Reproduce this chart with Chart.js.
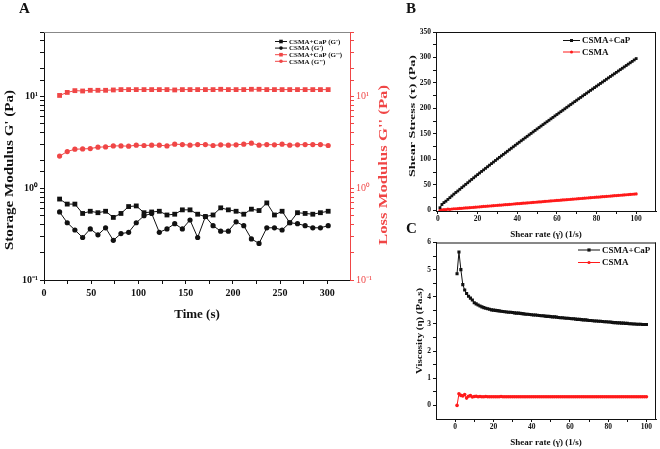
<!DOCTYPE html>
<html>
<head>
<meta charset="utf-8">
<script src="https://cdn.jsdelivr.net/npm/chart.js"></script>
<style>
  body { margin: 0; background: #fff; }
  #page { position: relative; width: 660px; height: 449px; overflow: hidden; }
  canvas { position: absolute; }
  .tag { position: absolute; font: bold 15px 'Liberation Serif', serif; color: #111; }
</style>
</head>
<body>
<div id="page">
  <canvas id="chartA" width="400" height="330" style="left:0;top:0"></canvas>
  <canvas id="chartB" width="260" height="242" style="left:400px;top:0"></canvas>
  <canvas id="chartC" width="260" height="213" style="left:400px;top:236px"></canvas>
  <div class="tag" style="left:19px;top:0px">A</div>
  <div class="tag" style="left:406px;top:0px">B</div>
  <div class="tag" style="left:406px;top:220px">C</div>
</div>
<script>
// Panel A: time sweep (s) vs moduli (Pa)
const timeS = [16.5, 24.6, 32.7, 40.9, 49.0, 57.1, 65.2, 73.4, 81.5, 89.6, 97.7, 105.9,
  114.0, 122.1, 130.2, 138.4, 146.5, 154.6, 162.7, 170.9, 179.0, 187.1, 195.2, 203.4,
  211.5, 219.6, 227.7, 235.9, 244.0, 252.1, 260.2, 268.4, 276.5, 284.6, 292.7, 300.9];
const storageCaP = [0.76, 0.67, 0.67, 0.53, 0.56, 0.54, 0.56, 0.48, 0.53, 0.63, 0.64, 0.54,
  0.55, 0.56, 0.51, 0.52, 0.58, 0.58, 0.52, 0.49, 0.51, 0.61, 0.58, 0.56,
  0.52, 0.59, 0.57, 0.69, 0.51, 0.56, 0.42, 0.54, 0.53, 0.52, 0.54, 0.56];
const storageCSMA = [0.55, 0.42, 0.35, 0.29, 0.36, 0.31, 0.37, 0.27, 0.32, 0.33, 0.42, 0.50,
  0.53, 0.33, 0.36, 0.41, 0.36, 0.45, 0.29, 0.49, 0.39, 0.34, 0.34, 0.43,
  0.39, 0.28, 0.25, 0.37, 0.37, 0.35, 0.42, 0.41, 0.39, 0.37, 0.37, 0.39];
const lossCaP = [10.2, 11.0, 11.5, 11.4, 11.6, 11.6, 11.6, 11.7, 11.8, 11.8, 11.8, 11.8,
  11.8, 11.8, 11.8, 11.7, 11.8, 11.8, 11.8, 11.8, 11.8, 11.9, 11.8, 11.8,
  11.8, 11.9, 11.9, 11.8, 11.8, 11.8, 11.8, 11.8, 11.8, 11.8, 11.8, 11.8];
const lossCSMA = [2.23, 2.50, 2.65, 2.67, 2.69, 2.79, 2.81, 2.88, 2.88, 2.86, 2.93, 2.91,
  2.93, 2.93, 2.88, 3.01, 2.98, 2.93, 2.98, 2.98, 2.91, 2.96, 2.93, 2.96,
  3.01, 3.08, 2.93, 2.98, 2.96, 3.01, 2.93, 2.96, 2.98, 2.98, 2.98, 2.91];

// Panels B and C: shear rate (1/s)
const shearRate = [1, 2, 3, 4, 5, 6, 7, 8, 9, 10, 11, 12, 13, 14, 15, 16, 17, 18, 19, 20,
  21, 22, 23, 24, 25, 26, 27, 28, 29, 30, 31, 32, 33, 34, 35, 36, 37, 38, 39, 40,
  41, 42, 43, 44, 45, 46, 47, 48, 49, 50, 51, 52, 53, 54, 55, 56, 57, 58, 59, 60,
  61, 62, 63, 64, 65, 66, 67, 68, 69, 70, 71, 72, 73, 74, 75, 76, 77, 78, 79, 80,
  81, 82, 83, 84, 85, 86, 87, 88, 89, 90, 91, 92, 93, 94, 95, 96, 97, 98, 99, 100];
const stressCaP = [4.9, 11.3, 15.0, 17.8, 21.3, 24.7, 28.1, 31.6, 34.9, 37.8,
  41.1, 44.4, 47.6, 50.8, 54.0, 57.3, 60.5, 63.7, 66.9, 70.0,
  73.1, 76.2, 79.2, 82.3, 85.4, 88.5, 91.6, 94.6, 97.7, 100.8,
  103.8, 106.8, 109.7, 112.7, 115.7, 118.7, 121.7, 124.6, 127.6, 130.6,
  133.5, 136.4, 139.3, 142.2, 145.1, 148.0, 150.9, 153.8, 156.7, 159.6,
  162.4, 165.3, 168.1, 171.0, 173.8, 176.6, 179.5, 182.3, 185.2, 188.0,
  190.8, 193.6, 196.4, 199.2, 202.1, 204.9, 207.7, 210.5, 213.3, 216.1,
  218.9, 221.6, 224.4, 227.1, 229.9, 232.6, 235.4, 238.1, 240.9, 243.6,
  246.3, 249.0, 251.7, 254.4, 257.2, 259.9, 262.6, 265.3, 268.0, 270.7,
  273.4, 276.1, 278.8, 281.5, 284.2, 286.9, 289.6, 292.3, 295.1, 297.8];
const stressCSMA = [0.0, 0.9, 1.1, 1.4, 2.0, 1.6, 2.4, 2.9, 2.9, 3.3,
  3.5, 3.8, 4.2, 4.5, 4.8, 5.1, 5.4, 5.8, 6.1, 6.4,
  6.7, 7.0, 7.4, 7.7, 8.0, 8.3, 8.6, 9.0, 9.3, 9.6,
  9.9, 10.2, 10.6, 10.9, 11.2, 11.5, 11.8, 12.2, 12.5, 12.8,
  13.1, 13.4, 13.8, 14.1, 14.4, 14.7, 15.0, 15.4, 15.7, 16.0,
  16.3, 16.6, 17.0, 17.3, 17.6, 17.9, 18.2, 18.6, 18.9, 19.2,
  19.5, 19.8, 20.2, 20.5, 20.8, 21.1, 21.4, 21.8, 22.1, 22.4,
  22.7, 23.0, 23.4, 23.7, 24.0, 24.3, 24.6, 25.0, 25.3, 25.6,
  25.9, 26.2, 26.6, 26.9, 27.2, 27.5, 27.8, 28.2, 28.5, 28.8,
  29.1, 29.4, 29.8, 30.1, 30.4, 30.7, 31.0, 31.4, 31.7, 32.0];
const viscCaP = [4.85, 5.65, 5.00, 4.45, 4.25, 4.12, 4.02, 3.95, 3.88, 3.78,
  3.74, 3.70, 3.66, 3.63, 3.60, 3.58, 3.56, 3.54, 3.52, 3.51,
  3.50, 3.49, 3.48, 3.47, 3.46, 3.45, 3.44, 3.43, 3.43, 3.42,
  3.41, 3.40, 3.40, 3.39, 3.38, 3.37, 3.36, 3.36, 3.35, 3.34,
  3.33, 3.33, 3.32, 3.31, 3.30, 3.30, 3.29, 3.28, 3.28, 3.27,
  3.26, 3.26, 3.25, 3.24, 3.23, 3.23, 3.22, 3.21, 3.21, 3.20,
  3.19, 3.19, 3.18, 3.17, 3.17, 3.16, 3.15, 3.15, 3.14, 3.13,
  3.13, 3.12, 3.11, 3.11, 3.10, 3.10, 3.09, 3.08, 3.08, 3.07,
  3.07, 3.06, 3.05, 3.05, 3.04, 3.04, 3.03, 3.03, 3.02, 3.02,
  3.01, 3.01, 3.00, 3.00, 2.99, 2.99, 2.99, 2.98, 2.98, 2.98];
const viscCSMA = [0.00, 0.43, 0.37, 0.35, 0.40, 0.27, 0.34, 0.36, 0.31, 0.33,
  0.34, 0.32, 0.33, 0.32, 0.32, 0.33, 0.32, 0.32, 0.32, 0.32,
  0.32, 0.32, 0.32, 0.33, 0.32, 0.32, 0.32, 0.32, 0.32, 0.32,
  0.32, 0.32, 0.32, 0.32, 0.32, 0.32, 0.32, 0.32, 0.32, 0.32,
  0.32, 0.32, 0.32, 0.32, 0.32, 0.32, 0.32, 0.32, 0.32, 0.32,
  0.32, 0.32, 0.32, 0.32, 0.32, 0.32, 0.32, 0.32, 0.32, 0.32,
  0.32, 0.32, 0.32, 0.32, 0.32, 0.32, 0.32, 0.32, 0.32, 0.32,
  0.32, 0.32, 0.32, 0.32, 0.32, 0.32, 0.32, 0.32, 0.32, 0.32,
  0.32, 0.32, 0.32, 0.32, 0.32, 0.32, 0.32, 0.32, 0.32, 0.32,
  0.32, 0.32, 0.32, 0.32, 0.32, 0.32, 0.32, 0.32, 0.32, 0.32];

const SERIF = "'Liberation Serif', 'Times New Roman', serif";
const RED_A = '#f04646';
const RED = '#ff1a1a';

Chart.defaults.font.family = SERIF;
Chart.defaults.color = '#111';

function xy(xs, ys) {
  return xs.map((x, i) => ({ x: x, y: ys[i] }));
}

// legend drawn inside the plot, top right
const miniLegend = {
  id: 'miniLegend',
  afterDraw(chart, args, o) {
    if (!o || !o.x) return;
    const ctx = chart.ctx;
    ctx.save();
    ctx.font = o.font;
    ctx.textBaseline = 'middle';
    chart.data.datasets.forEach((ds, i) => {
      const y = o.y + i * o.rowH;
      ctx.strokeStyle = ds.borderColor;
      ctx.fillStyle = ds.borderColor;
      ctx.lineWidth = 1;
      ctx.beginPath();
      ctx.moveTo(o.x, y);
      ctx.lineTo(o.x + o.lineLen, y);
      ctx.stroke();
      const cx = o.x + o.lineLen / 2;
      ctx.beginPath();
      if (ds.pointStyle === 'rect') ctx.rect(cx - o.r, y - o.r, 2 * o.r, 2 * o.r);
      else ctx.arc(cx, y, o.r, 0, Math.PI * 2);
      ctx.fill();
      ctx.fillStyle = '#111';
      ctx.fillText(ds.label, o.x + o.lineLen + 2, y + 0.5);
    });
    ctx.restore();
  }
};

// top / right border lines and the vertical axis titles (stretched like the original)
const frame = {
  id: 'frame',
  afterDraw(chart, args, o) {
    const { ctx, chartArea: a } = chart;
    ctx.save();
    ctx.lineWidth = 1;
    ctx.strokeStyle = o.topColor || '#111';
    ctx.beginPath();
    ctx.moveTo(a.left, a.top + 0.5);
    ctx.lineTo(a.right, a.top + 0.5);
    ctx.stroke();
    if (o.right) {
      ctx.beginPath();
      ctx.moveTo(a.right - 0.5, a.top);
      ctx.lineTo(a.right - 0.5, a.bottom);
      ctx.stroke();
    }
    ctx.restore();
    (o.titles || []).forEach(t => {
      ctx.save();
      ctx.translate(t.x, t.cy);
      ctx.rotate(-Math.PI / 2);
      ctx.font = t.font;
      const w = ctx.measureText(t.text).width;
      ctx.scale(t.len / w, 1);
      ctx.fillStyle = t.color || '#111';
      ctx.textAlign = 'center';
      ctx.textBaseline = 'middle';
      ctx.fillText(t.text, 0, 0);
      ctx.restore();
    });
  }
};

function powLabel(v) {
  const l = Math.log10(v);
  if (Math.abs(l - Math.round(l)) > 1e-6) return '';
  return { '-1': '10⁻¹', '0': '10⁰', '1': '10¹' }[String(Math.round(l))] || '';
}

function logAxis(position, color, bold, width) {
  return {
    type: 'logarithmic', position: position, min: 0.1, max: 50,
    afterFit: (s) => { s.width = width; },
    border: { color: color, width: 1 },
    grid: { drawOnChartArea: false, tickLength: 4, tickColor: color },
    ticks: { autoSkip: false, color: color, padding: 2, callback: powLabel,
             font: { size: 10, weight: bold ? 'bold' : 'normal' } }
  };
}

new Chart(document.getElementById('chartA'), {
  type: 'line',
  data: {
    datasets: [
      { label: "CSMA+CaP (G')", data: xy(timeS, storageCaP), yAxisID: 'y',
        borderColor: '#111', backgroundColor: '#111', pointStyle: 'rect', pointRadius: 3.4 },
      { label: "CSMA (G')", data: xy(timeS, storageCSMA), yAxisID: 'y',
        borderColor: '#111', backgroundColor: '#111', pointStyle: 'circle', pointRadius: 2.6 },
      { label: "CSMA+CaP (G'')", data: xy(timeS, lossCaP), yAxisID: 'y2',
        borderColor: RED_A, backgroundColor: RED_A, pointStyle: 'rect', pointRadius: 3.4 },
      { label: "CSMA (G'')", data: xy(timeS, lossCSMA), yAxisID: 'y2',
        borderColor: RED_A, backgroundColor: RED_A, pointStyle: 'circle', pointRadius: 2.6 }
    ]
  },
  options: {
    responsive: false, animation: false, devicePixelRatio: 1,
    layout: { padding: { top: 32, left: 0, right: 0, bottom: 0 } },
    elements: { line: { borderWidth: 1, tension: 0 }, point: { borderWidth: 0 } },
    plugins: {
      legend: { display: false }, tooltip: { enabled: false },
      miniLegend: { x: 275, y: 41.5, rowH: 6.6, lineLen: 12, r: 1.8,
                    font: "bold 7px " + SERIF },
      frame: { topColor: '#888', titles: [
        { text: "Storage Modulus G' (Pa)", x: 10, cy: 170, len: 160, font: "bold 13px " + SERIF },
        { text: "Loss Modulus G'' (Pa)", x: 384, cy: 165, len: 160, font: "bold 13px " + SERIF, color: RED_A }
      ] }
    },
    scales: {
      x: {
        type: 'linear', min: 0, max: 324,
        afterFit: (s) => { s.height = 50; },
        afterBuildTicks: (s) => { s.ticks = s.ticks.filter(t => t.value % 25 === 0); },
        border: { color: '#111' },
        grid: { drawOnChartArea: false, tickLength: 4, tickColor: '#111' },
        ticks: { stepSize: 25, includeBounds: false, autoSkip: false, maxRotation: 0, padding: 3,
                 font: { size: 10, weight: 'bold' },
                 callback: (v) => (v % 50 === 0 ? v : '') },
        title: { display: true, text: 'Time (s)', color: '#111',
                 font: { size: 13, weight: 'bold' }, padding: { top: 4, bottom: 8 } }
      },
      y: logAxis('left', '#111', true, 44),
      y2: logAxis('right', RED_A, false, 50)
    }
  },
  plugins: [miniLegend, frame]
});

function shearOptions(opt) {
  return {
    responsive: false, animation: false, devicePixelRatio: 1,
    layout: { padding: { top: opt.top, left: 0, right: 3, bottom: 0 } },
    elements: { line: { borderWidth: 1, tension: 0 }, point: { borderWidth: 0 } },
    plugins: {
      legend: { display: false }, tooltip: { enabled: false },
      miniLegend: opt.legend,
      frame: { right: true, titles: [opt.yTitle] }
    },
    scales: {
      x: {
        type: 'linear', min: opt.xMin, max: opt.xMax,
        afterFit: (s) => { s.height = opt.xH; },
        afterBuildTicks: (s) => { s.ticks = s.ticks.filter(t => t.value % 10 === 0 && t.value >= 0 && t.value <= 100); },
        border: { color: '#111' },
        grid: { drawOnChartArea: false, tickLength: 3, tickColor: '#111' },
        ticks: { stepSize: 10, includeBounds: false, autoSkip: false, maxRotation: 0, padding: 1,
                 font: { size: 7.5, weight: 'bold' },
                 callback: (v) => (v % 20 === 0 ? v : '') },
        title: { display: true, text: 'Shear rate (γ̇) (1/s)', color: '#111',
                 font: { size: 9, weight: 'bold' }, padding: { top: 4, bottom: opt.xTitlePad } }
      },
      y: {
        type: 'linear', min: opt.yMin, max: opt.yMax,
        afterFit: (s) => { s.width = 36; },
        afterBuildTicks: (s) => { s.ticks = s.ticks.filter(t => t.value >= 0); },
        border: { color: '#111' },
        grid: { drawOnChartArea: false, tickLength: 3, tickColor: '#111' },
        ticks: { stepSize: opt.yStep / 2, includeBounds: false, autoSkip: false, padding: 2,
                 font: { size: 7.5, weight: 'bold' },
                 callback: (v) => (Math.abs(v / opt.yStep - Math.round(v / opt.yStep)) < 1e-6 ? v : '') }
      }
    }
  };
}

new Chart(document.getElementById('chartB'), {
  type: 'line',
  data: {
    datasets: [
      { label: 'CSMA+CaP', data: xy(shearRate, stressCaP),
        borderColor: '#111', backgroundColor: '#111', pointStyle: 'rect', pointRadius: 2 },
      { label: 'CSMA', data: xy(shearRate, stressCSMA),
        borderColor: RED, backgroundColor: RED, pointStyle: 'circle', pointRadius: 1.6 }
    ]
  },
  options: shearOptions({
    top: 32, xH: 31, xMin: -1, xMax: 110, yMin: -1.5, yMax: 350, yStep: 50, xTitlePad: 2,
    yTitle: { text: 'Shear Stress (τ) (Pa)', x: 13, cy: 116, len: 122, font: "bold 9px " + SERIF },
    legend: { x: 163, y: 40.5, rowH: 11.5, lineLen: 17, r: 1.5, font: "bold 9px " + SERIF }
  }),
  plugins: [miniLegend, frame]
});

new Chart(document.getElementById('chartC'), {
  type: 'line',
  data: {
    datasets: [
      { label: 'CSMA+CaP', data: xy(shearRate, viscCaP),
        borderColor: '#111', backgroundColor: '#111', pointStyle: 'rect', pointRadius: 2.2 },
      { label: 'CSMA', data: xy(shearRate, viscCSMA),
        borderColor: RED, backgroundColor: RED, pointStyle: 'circle', pointRadius: 1.8 }
    ]
  },
  options: shearOptions({
    top: 5, xH: 30, xMin: -10, xMax: 105, yMin: -0.5, yMax: 6, yStep: 1, xTitlePad: 1,
    yTitle: { text: 'Viscosity (η) (Pa.s)', x: 20, cy: 95, len: 86, font: "bold 9px " + SERIF },
    legend: { x: 178, y: 14, rowH: 12.5, lineLen: 22, r: 1.6, font: "bold 9px " + SERIF }
  }),
  plugins: [miniLegend, frame]
});
</script>
</body>
</html>
